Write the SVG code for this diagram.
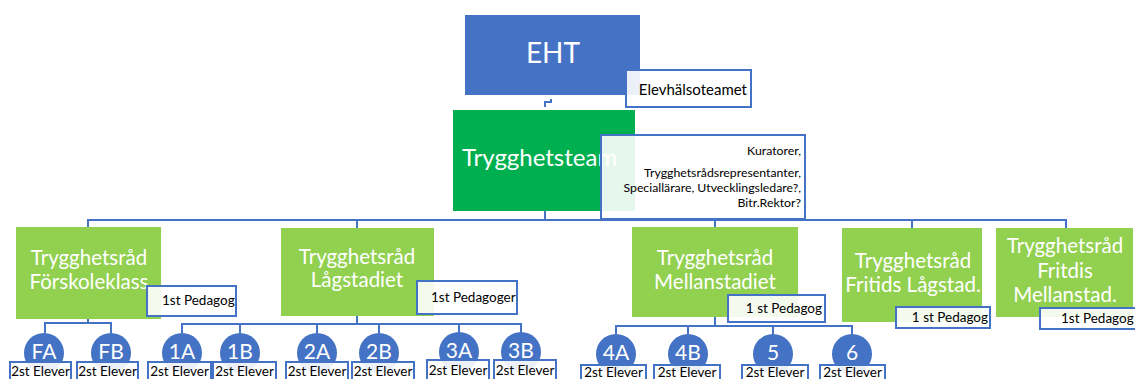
<svg xmlns="http://www.w3.org/2000/svg" width="1135" height="379" viewBox="0 0 1135 379">
<defs>
<style>
.t{font-family:Lato,"Open Sans","Noto Sans",sans-serif;}
.w{fill:#ffffff;}
.k{fill:#000000;}
.blue{fill:#4472C4;}
.g1{fill:#00B050;}
.g2{fill:#92D050;}
.tb{fill:#ffffff;fill-opacity:0.9;stroke:#4472C4;stroke-width:2;}
.ln{fill:none;stroke:#4472C4;stroke-width:2;}
.big{font-size:20.5px;text-anchor:middle;}
.sm{font-size:13.5px;}
.el{font-size:13.5px;text-anchor:middle;}
.ci{font-size:21px;text-anchor:middle;}
</style>
</defs>
<rect width="1135" height="379" fill="#ffffff"/>

<g id="connectors">
<path class="ln" d="M551 99 V102 H545 V107"/>
<path class="ln" d="M545 211 V220"/>
<path class="ln" d="M88 227 V220 H1066 V228"/>
<path class="ln" d="M357 220 V228 M715 220 V227 M912 220 V228"/>
<path class="ln" d="M88 319 V323 M45 333 V323 H111 V333"/>
<path class="ln" d="M357 316 V324 M182 333 V324 H521 V333 M240 324 V333 M317 324 V333 M379 324 V333 M459 324 V333"/>
<path class="ln" d="M715 317 V326 M616 334 V326 H852 V334 M688 326 V334 M773 326 V334"/>
</g>

<g id="eht">
<rect class="blue" x="465" y="15" width="175" height="80"/>
<text class="t w" x="553" y="63" font-size="28" text-anchor="middle">EHT</text>
<rect class="tb" x="626" y="70" width="125" height="37"/>
<text class="t k" x="747" y="95" font-size="15" text-anchor="end">Elevhälsoteamet</text>
</g>

<g id="trygghetsteam">
<rect class="g1" x="453" y="110" width="182" height="101"/>
<text class="t w" x="462" y="166" font-size="24">Trygghetsteam</text>
<rect class="tb" x="601" y="135" width="204" height="84"/>
<text class="t k" font-size="12.3" text-anchor="end"><tspan x="801" y="155">Kuratorer,</tspan><tspan x="801" y="177">Trygghetsrådsrepresentanter,</tspan><tspan x="801" y="192">Speciallärare, Utvecklingsledare?,</tspan><tspan x="801" y="207">Bitr.Rektor?</tspan></text>
</g>

<g id="forskoleklass">
<rect class="g2" x="16" y="227" width="145" height="92"/>
<text class="t w big"><tspan x="89" y="265">Trygghetsråd</tspan><tspan x="89" y="289">Förskoleklass</tspan></text>
<rect class="tb" x="147" y="286" width="89" height="30"/>
<text class="t k sm" x="162" y="305">1st Pedagog</text>
</g>

<g id="lagstadiet">
<rect class="g2" x="281" y="228" width="153" height="88"/>
<text class="t w big"><tspan x="357" y="264">Trygghetsråd</tspan><tspan x="357" y="287">Lågstadiet</tspan></text>
<rect class="tb" x="417" y="281" width="100" height="33"/>
<text class="t k sm" x="431" y="302">1st Pedagoger</text>
</g>

<g id="mellanstadiet">
<rect class="g2" x="632" y="227" width="166" height="90"/>
<text class="t w big"><tspan x="715" y="265">Trygghetsråd</tspan><tspan x="715" y="289">Mellanstadiet</tspan></text>
<rect class="tb" x="728" y="295" width="97" height="27"/>
<text class="t k sm" x="822" y="313" text-anchor="end">1 st Pedagog</text>
</g>

<g id="fritids-lagstad">
<rect class="g2" x="842" y="228" width="140" height="94"/>
<text class="t w big"><tspan x="913" y="268">Trygghetsråd</tspan><tspan x="913" y="292">Fritids Lågstad.</tspan></text>
<rect class="tb" x="896" y="307" width="94" height="21"/>
<text class="t k sm" x="988" y="322" text-anchor="end">1 st Pedagog</text>
</g>

<g id="fritdis-mellanstad">
<rect class="g2" x="996" y="228" width="137" height="89"/>
<text class="t w big"><tspan x="1065" y="253">Trygghetsråd</tspan><tspan x="1065" y="278">Fritdis</tspan><tspan x="1065" y="302">Mellanstad.</tspan></text>
<rect class="tb" x="1040" y="308" width="100" height="21"/>
<text class="t k sm" x="1061" y="323">1st Pedagog</text>
</g>

<g id="FA"><circle class="blue" cx="44" cy="353" r="20"/><text class="t w ci" x="44" y="359">FA</text><rect class="tb" x="10" y="362" width="61" height="20"/><text class="t k el" x="40.5" y="376">2st Elever</text></g>
<g id="FB"><circle class="blue" cx="111" cy="353" r="20"/><text class="t w ci" x="111" y="359">FB</text><rect class="tb" x="77" y="362" width="61" height="20"/><text class="t k el" x="107.5" y="376">2st Elever</text></g>
<g id="1A"><circle class="blue" cx="182" cy="353" r="20"/><text class="t w ci" x="182" y="359">1A</text><rect class="tb" x="148" y="362" width="63" height="20"/><text class="t k el" x="179.5" y="376">2st Elever</text></g>
<g id="1B"><circle class="blue" cx="240" cy="353" r="20"/><text class="t w ci" x="240" y="359">1B</text><rect class="tb" x="213" y="362" width="63" height="20"/><text class="t k el" x="244.5" y="376">2st Elever</text></g>
<g id="2A"><circle class="blue" cx="317" cy="353" r="20"/><text class="t w ci" x="317" y="359">2A</text><rect class="tb" x="286" y="362" width="62" height="20"/><text class="t k el" x="317" y="376">2st Elever</text></g>
<g id="2B"><circle class="blue" cx="379" cy="353" r="20"/><text class="t w ci" x="379" y="359">2B</text><rect class="tb" x="352" y="362" width="62" height="20"/><text class="t k el" x="383" y="376">2st Elever</text></g>
<g id="3A"><circle class="blue" cx="459" cy="352" r="20"/><text class="t w ci" x="459" y="358">3A</text><rect class="tb" x="427" y="360" width="62" height="22"/><text class="t k el" x="458" y="375">2st Elever</text></g>
<g id="3B"><circle class="blue" cx="521" cy="352" r="20"/><text class="t w ci" x="521" y="358">3B</text><rect class="tb" x="494" y="360" width="62" height="22"/><text class="t k el" x="525" y="375">2st Elever</text></g>
<g id="4A"><circle class="blue" cx="616" cy="354" r="20"/><text class="t w ci" x="616" y="360">4A</text><rect class="tb" x="581" y="365" width="65" height="18"/><text class="t k el" x="613.5" y="377">2st Elever</text></g>
<g id="4B"><circle class="blue" cx="688" cy="354" r="20"/><text class="t w ci" x="688" y="360">4B</text><rect class="tb" x="654" y="365" width="66" height="18"/><text class="t k el" x="687" y="377">2st Elever</text></g>
<g id="5"><circle class="blue" cx="773" cy="354" r="20"/><text class="t w ci" x="773" y="360">5</text><rect class="tb" x="742" y="365" width="66" height="18"/><text class="t k el" x="775" y="377">2st Elever</text></g>
<g id="6"><circle class="blue" cx="852" cy="354" r="20"/><text class="t w ci" x="852" y="360">6</text><rect class="tb" x="820" y="365" width="65" height="18"/><text class="t k el" x="852.5" y="377">2st Elever</text></g>
</svg>
